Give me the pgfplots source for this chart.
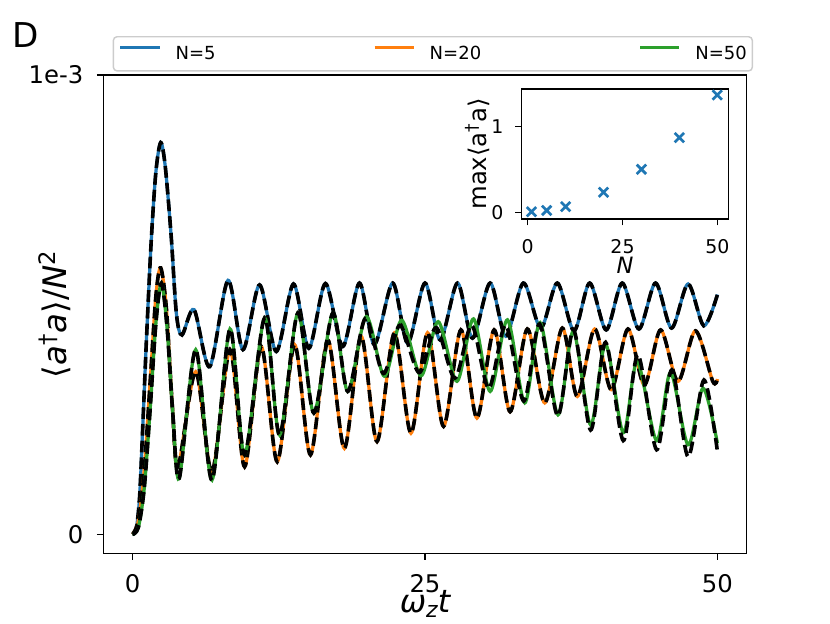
\documentclass[border=0pt]{standalone}
\usepackage{fontspec}
\setmainfont{DejaVu Sans}
\usepackage{pgfplots}
\usepackage{pgfplotstable}
\pgfplotsset{compat=1.18}
\definecolor{tabblue}{HTML}{1F77B4}
\definecolor{taborange}{HTML}{FF7F0E}
\definecolor{tabgreen}{HTML}{2CA02C}

\pgfplotstableread{
t y
0 0
0.3 0.01
0.6 0.08
0.9 0.25
1.2 0.43
1.6 0.64
2.0 0.79
2.41 0.853
2.8 0.80
3.3 0.65
3.75 0.48
4.23 0.434
5.26 0.489
6.6 0.365
8.16 0.553
9.44 0.402
10.86 0.543
12.29 0.398
13.76 0.545
15.07 0.405
16.49 0.546
17.97 0.409
19.4 0.547
20.67 0.413
22.24 0.547
23.52 0.416
25.0 0.547
26.3 0.423
27.78 0.547
29.06 0.427
30.57 0.547
31.91 0.431
33.41 0.547
34.9 0.449
36.31 0.547
37.74 0.443
39.08 0.547
40.49 0.445
41.86 0.547
43.29 0.447
44.71 0.547
46.08 0.449
47.49 0.545
48.83 0.454
50 0.522
}\blue

\pgfplotstableread{
t y
0 0
0.5 0.03
1.0 0.14
1.5 0.33
2.0 0.52
2.41 0.58
2.9 0.49
3.4 0.28
3.89 0.147
5.4 0.354
6.79 0.136
8.33 0.402
9.58 0.147
11.0 0.409
12.37 0.158
13.85 0.413
15.21 0.173
16.69 0.423
18.11 0.187
19.54 0.431
20.9 0.202
22.38 0.438
23.8 0.22
25.22 0.439
26.59 0.235
28.07 0.445
29.44 0.253
30.91 0.445
32.28 0.267
33.75 0.447
35.24 0.286
36.74 0.449
38.02 0.3
39.5 0.447
40.92 0.315
42.35 0.447
43.75 0.325
45.14 0.445
46.63 0.333
48.12 0.443
49.6 0.333
50 0.338
}\orange

\pgfplotstableread{
t y
0 0
0.5 0.015
1.0 0.1
1.5 0.27
2.0 0.46
2.47 0.547
2.95 0.45
3.45 0.26
4.0 0.122
5.4 0.402
6.79 0.118
8.33 0.447
9.58 0.173
11.29 0.471
12.57 0.216
14.13 0.482
15.5 0.264
17.12 0.482
18.4 0.311
19.97 0.474
21.53 0.344
23.0 0.466
24.66 0.345
26.13 0.463
27.73 0.333
29.15 0.469
30.57 0.311
32.05 0.467
33.53 0.286
34.84 0.461
36.37 0.26
37.68 0.442
39.16 0.238
40.44 0.414
41.95 0.221
43.14 0.376
44.8 0.204
45.99 0.352
47.49 0.195
48.77 0.318
50 0.198
}\green

\pgfplotstableread{
t y
0 0
0.5 0.015
1.0 0.1
1.5 0.27
2.0 0.46
2.47 0.547
2.95 0.45
3.45 0.26
4.0 0.122
5.4 0.402
6.79 0.118
8.33 0.447
9.58 0.173
11.29 0.471
12.57 0.216
14.13 0.482
15.5 0.264
17.12 0.482
18.4 0.311
19.9 0.47
21.45 0.35
22.85 0.455
24.5 0.352
25.95 0.45
27.55 0.34
29.0 0.455
30.45 0.318
31.9 0.455
33.45 0.29
34.8 0.458
36.35 0.258
37.7 0.445
39.16 0.227
40.44 0.418
41.95 0.204
43.2 0.391
44.8 0.184
46.1 0.358
47.49 0.169
48.85 0.336
50 0.18
}\blackfifty

\begin{document}
\begin{tikzpicture}
\useasboundingbox (0,0) rectangle (460.8pt,345.88pt);
\node[anchor=base west, inner sep=0pt, font=\fontsize{19}{22}\selectfont] at (7pt,319.4pt) {D};
\begin{axis}[
  at={(57.35pt,38.70pt)}, anchor=south west,
  scale only axis, width=357.2pt, height=265.54pt,
  xmin=-2.5, xmax=52.5, ymin=-0.0414, ymax=1,
  xtick={0,25,50}, xticklabels={0,25,50},
  ytick={0,1}, yticklabels={0,1e-3},
  tick align=outside, tick pos=left,
  major tick length=3.5pt,
  every tick/.style={black, line width=0.8pt},
  axis line style={line width=0.8pt},
  ticklabel style={font=\fontsize{13.5}{16}\selectfont},
  xticklabel style={anchor=base, inner sep=0pt, yshift=-18.3pt},
  yticklabel style={anchor=east, inner sep=0pt, xshift=-7.4pt},
  xlabel={\itshape ω\raisebox{-0.18em}{\fontsize{12.2}{14}\selectfont\itshape z}t},
  ylabel={⟨\textit{a}\textsuperscript{†}\textit{a}⟩/\textit{N}\textsuperscript{2}},
  xlabel style={at={(axis description cs:0.5,-0.123)}, anchor=base, inner sep=0pt, font=\fontsize{17.5}{20}\selectfont},
  ylabel style={at={(axis description cs:-0.0569,0.5)}, anchor=base, inner sep=0pt, font=\fontsize{18}{21}\selectfont},
  legend columns=3,
  legend image code/.code={\path (0pt,0pt); \draw[#1] (0pt,3.6pt) -- (21.7pt,3.6pt);},
  legend style={at={(axis description cs:0.0146,1.0815)}, anchor=north west,
    draw=black!20, rounded corners=2pt, line width=0.8pt,
    font=\fontsize{10}{12}\selectfont, inner xsep=3pt, inner ysep=5pt,
    nodes={inner sep=0pt, rounded corners=0pt},
    /tikz/every odd column/.append style={column sep=8pt},
    /tikz/every even column/.append style={column sep=87.4pt}},
]
\addplot[tabblue, line width=1.8pt, smooth] table[x=t,y=y] {\blue};
\addlegendentry{N=5}
\addplot[black, line width=2pt, smooth, dash pattern=on 6.5pt off 2.8pt, forget plot] table[x=t,y=y] {\blue};
\addplot[taborange, line width=1.8pt, smooth] table[x=t,y=y] {\orange};
\addlegendentry{N=20}
\addplot[black, line width=2pt, smooth, dash pattern=on 6.5pt off 2.8pt, forget plot] table[x=t,y=y] {\orange};
\addplot[tabgreen, line width=1.8pt, smooth] table[x=t,y=y] {\green};
\addlegendentry{N=50}
\addplot[black, line width=2pt, smooth, dash pattern=on 6.5pt off 2.8pt, forget plot] table[x=t,y=y] {\blackfifty};
\end{axis}
\begin{axis}[
  at={(289.64pt,224.29pt)}, anchor=south west,
  scale only axis, width=114.7pt, height=72.17pt,
  xmin=-1.58, xmax=52.9, ymin=-0.078, ymax=1.44,
  xtick={0,25,50}, xticklabels={0,25,50},
  ytick={0,1}, yticklabels={0,1},
  axis background/.style={fill=white},
  tick align=outside, tick pos=left,
  major tick length=3.5pt,
  every tick/.style={black, line width=0.8pt},
  axis line style={line width=0.8pt},
  ticklabel style={font=\fontsize{10.5}{12}\selectfont},
  xticklabel style={anchor=base, inner sep=0pt, yshift=-15.4pt},
  yticklabel style={anchor=east, inner sep=0pt, xshift=-6.5pt},
  xlabel={\textit{N}},
  ylabel={max⟨a\textsuperscript{†}a⟩},
  xlabel style={at={(axis description cs:0.5,-0.418)}, anchor=base, inner sep=0pt, font=\fontsize{12.5}{15}\selectfont},
  ylabel style={at={(axis description cs:-0.169,0.5)}, anchor=base, inner sep=0pt, font=\fontsize{13.5}{16}\selectfont},
]
\addplot[only marks, mark=x, mark size=3.7pt, tabblue, line width=1.5pt] coordinates {(1,0.007)(5,0.022)(10,0.066)(20,0.234)(30,0.502)(40,0.872)(50,1.37)};
\end{axis}
\end{tikzpicture}
\end{document}
